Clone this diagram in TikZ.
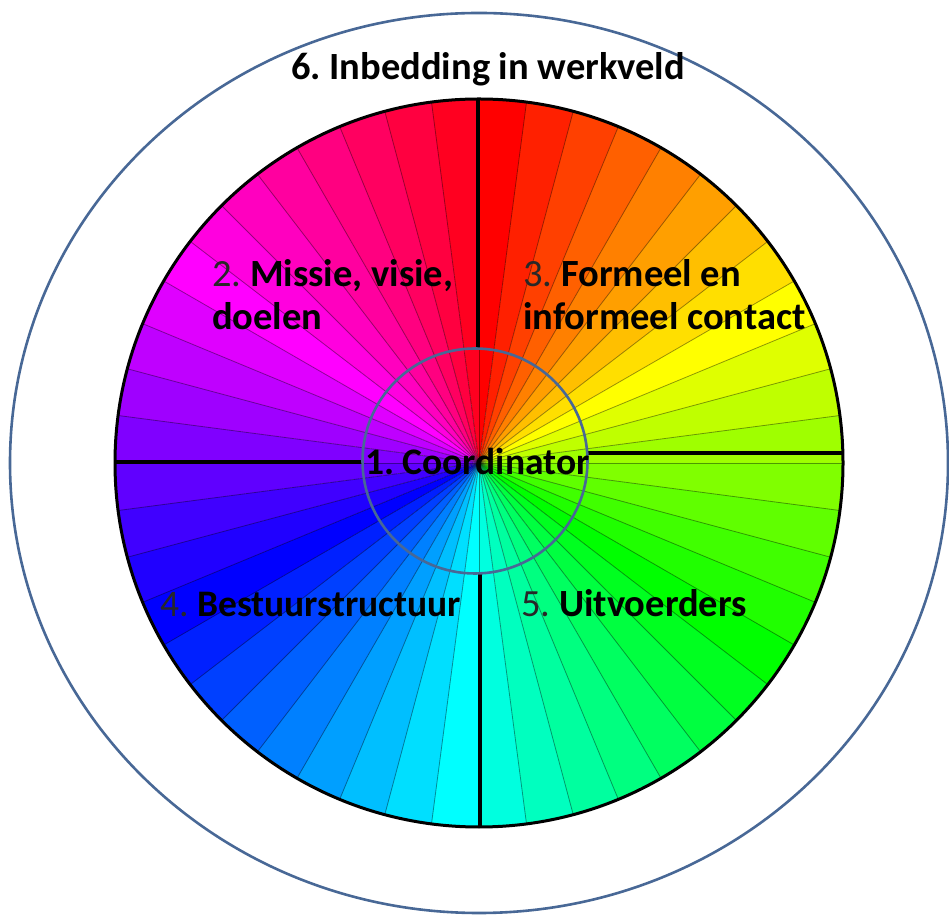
\documentclass[tikz,border=0pt]{standalone}
\usepackage{fontspec}
\setmainfont{Carlito}
\frenchspacing
\definecolor{ringblue}{RGB}{72,104,150}
\definecolor{numcol}{RGB}{40,40,40}
\begin{document}
\begin{tikzpicture}[x=1pt,y=1pt,
  ring/.style={draw=ringblue, line width=2.6pt},
  divider/.style={draw=black, line width=4.2pt},
  seam/.style={draw=black, draw opacity=0.4, line width=0.8pt},
  txt/.style={inner sep=0pt, anchor=base west, font=\fontsize{38.5}{43}\selectfont},
  smalltxt/.style={txt, font=\fontsize{37.5}{43}\selectfont}]
\useasboundingbox (0,0) rectangle (949,915);
\coordinate (wc) at (479,452);
\coordinate (ic) at (475,454);

% colour wheel: 48 wedges, hue running clockwise from the top
\foreach \i in {0,...,47}{
  \pgfmathsetmacro\hue{7.5*\i}
  \definecolor{wedge}{Hsb}{\hue,1,1}
  \fill[wedge] (wc) -- ++({90-7.5*\i}:364)
    arc[start angle={90-7.5*\i}, delta angle=-7.6, radius=364] -- cycle;
}
\foreach \i in {0,...,47}
  \draw[seam] (wc) -- ++({90-7.5*\i}:364);

% quadrant dividers
\draw[divider] (478,815) -- (478,566);
\draw[divider] (480,342) -- (480,88);
\draw[divider] (115,453) -- (362,453);
\draw[divider] (588,462) -- (844,462);

% rims
\draw[line width=3pt] (wc) circle[radius=364];
\draw[ring] (ic) circle[radius=112.5];
\draw[ring] (479,452) ellipse[x radius=469, y radius=450];

% labels
\node[txt, anchor=base] (t6) at (488,835) {\bfseries 6. Inbedding in werkveld};
\node[txt] (t2a) at (212,628) {\textcolor{numcol}{2.} \textbf{Missie, visie,}};
\node[txt] (t2b) at (212,585) {\textbf{doelen}};
\node[txt] (t3a) at (523,628) {\textcolor{numcol}{3.} \textbf{Formeel en}};
\node[txt] (t3b) at (523,585) {\textbf{informeel contact}};
\node[smalltxt] (t1) at (365,440) {\textbf{1. Coordinator}};
\node[smalltxt] (t4) at (160,298) {\textcolor{numcol}{4.} \textbf{Bestuurstructuur}};
\node[txt] (t5) at (521,298) {\textcolor{numcol}{5.} \textbf{Uitvoerders}};
\end{tikzpicture}
\end{document}
